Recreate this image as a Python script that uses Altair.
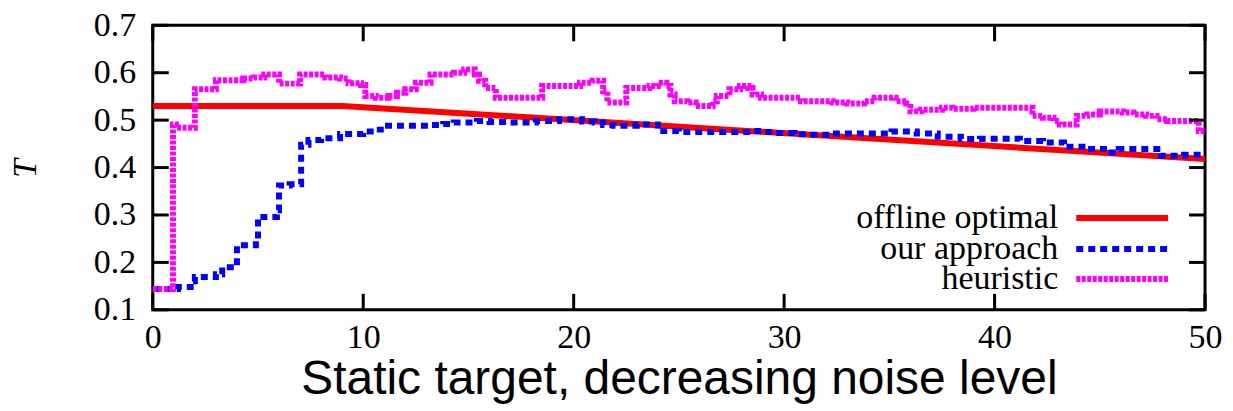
import altair as alt
import pandas as pd

# ---- data ----
x_ticks = [0, 10, 20, 30, 40, 50]
y_ticks = [0.1, 0.2, 0.3, 0.4, 0.5, 0.6, 0.7]

series_names = ["offline optimal", "our approach", "heuristic"]
series_colors = ["#ff0000", "#0000ff", "#ff00ff"]

optimal_x = [0, 9, 50]
optimal_y = [0.53, 0.53, 0.418]

approach_x = [0, 1.2, 1.8, 2.0, 3.0, 3.3, 4.0, 4.9, 5.0, 5.9, 6.0, 6.5, 7.05, 7.4, 8.0,
              8.9, 10.0, 10.5, 11.0, 13.2, 13.8, 14.3, 15.4, 16.0, 17.0, 18.2, 19.3,
              20.4, 21.0, 21.4, 21.9, 23.0, 24.0, 25.0, 28.5, 29.0, 29.6, 30.5, 31.1,
              32.2, 35.1, 36.3, 37.3, 38.4, 39.3, 41.2, 42.3, 43.3, 44.4, 45.4, 45.9,
              47.9, 49.0, 50.0]
approach_y = [0.144, 0.148, 0.16, 0.169, 0.175, 0.19, 0.236, 0.247, 0.296, 0.31, 0.362,
              0.365, 0.448, 0.458, 0.462, 0.471, 0.476, 0.48, 0.488, 0.49, 0.492, 0.495,
              0.498, 0.496, 0.495, 0.498, 0.502, 0.497, 0.495, 0.49, 0.488, 0.491, 0.477,
              0.475, 0.477, 0.475, 0.473, 0.47, 0.469, 0.472, 0.476, 0.472, 0.465, 0.46,
              0.461, 0.456, 0.453, 0.444, 0.439, 0.432, 0.439, 0.425, 0.427, 0.427]

heuristic_x = [0, 0.96, 1.1, 2.0, 3.0, 4.3, 4.8, 5.3, 6.0, 7.0, 8.2, 8.9, 9.3, 9.9, 10.1,
               10.6, 11.2, 11.6, 12.0, 12.5, 13.2, 14.3, 14.8, 15.3, 15.5, 15.8, 16.3,
               18.5, 20.3, 20.9, 21.4, 21.6, 22.5, 23.6, 24.0, 24.4, 24.6, 24.8, 25.4,
               25.8, 26.6, 26.8, 27.4, 27.9, 28.3, 28.5, 28.9, 30.8, 32.3, 33.0, 33.8,
               34.3, 35.3, 35.8, 36.0, 36.5, 37.5, 38.0, 39.0, 41.8, 42.3, 42.8, 43.1,
               43.9, 44.4, 45.0, 46.1, 46.6, 47.2, 47.7, 48.2, 49.7, 50.0]
heuristic_y = [0.144, 0.491, 0.484, 0.565, 0.584, 0.588, 0.59, 0.596, 0.577, 0.596, 0.59,
               0.588, 0.578, 0.574, 0.551, 0.547, 0.551, 0.558, 0.565, 0.579, 0.596, 0.6,
               0.607, 0.596, 0.583, 0.568, 0.547, 0.572, 0.579, 0.583, 0.561, 0.537,
               0.568, 0.572, 0.579, 0.572, 0.554, 0.54, 0.537, 0.53, 0.54, 0.551, 0.565,
               0.572, 0.568, 0.554, 0.547, 0.54, 0.537, 0.535, 0.54, 0.547, 0.54, 0.535,
               0.519, 0.522, 0.526, 0.524, 0.526, 0.509, 0.505, 0.498, 0.491, 0.509,
               0.512, 0.518, 0.516, 0.512, 0.509, 0.502, 0.498, 0.477, 0.477]

# ---- layout / style ----
W, H = 1054, 285
TICK = 16
SERIF = "Liberation Serif"
SANS = "Liberation Sans"

xscale = alt.Scale(domain=[0, 50], nice=False, zero=False)
yscale = alt.Scale(domain=[0.1, 0.7], nice=False, zero=False)

x_axis = alt.Axis(values=x_ticks, ticks=False, domain=False, grid=False,
                  labelFont=SERIF, labelFontSize=34, labelPadding=11, labelFlush=False,
                  labelColor="black", labelOverlap=False,
                  title="Static target, decreasing noise level", titleFont=SANS,
                  titleFontSize=48, titleFontWeight="normal", titleColor="black",
                  titleY=84, titleBaseline="alphabetic")
y_axis = alt.Axis(values=y_ticks, format=".1f", ticks=False, domain=False, grid=False,
                  labelFont=SERIF, labelFontSize=34, labelPadding=17, labelColor="black",
                  labelOverlap=False,
                  title="T", titleFont=SERIF, titleFontStyle="italic", titleFontSize=34,
                  titleFontWeight="normal", titleColor="black", titleX=-117, titleY=143,
                  titleBaseline="alphabetic")


def X(field):
    return alt.X(field, scale=xscale, axis=x_axis)


def Y(field):
    return alt.Y(field, scale=yscale, axis=y_axis)


df_opt = pd.DataFrame({"x": optimal_x, "y": optimal_y})
df_app = pd.DataFrame({"x": approach_x, "y": approach_y})
df_heu = pd.DataFrame({"x": heuristic_x, "y": heuristic_y})

red = alt.Chart(df_opt).mark_line(color=series_colors[0], strokeWidth=6, clip=True).encode(
    x=X("x:Q"), y=Y("y:Q"))
blue = alt.Chart(df_app).mark_line(color=series_colors[1], strokeWidth=6, strokeDash=[7, 5],
                                   interpolate="step-after", clip=True).encode(
    x=X("x:Q"), y=Y("y:Q"))
mag = alt.Chart(df_heu).mark_line(color=series_colors[2], strokeWidth=6, strokeDash=[4, 1.5],
                                  interpolate="step-after", clip=True).encode(
    x=X("x:Q"), y=Y("y:Q"))

# inward tick marks on all four sides (gnuplot style)
df_yt = pd.DataFrame({"x": [0] * len(y_ticks), "y": y_ticks})
df_xt = pd.DataFrame({"x": x_ticks, "y": [0.1] * len(x_ticks)})
tick_layers = [
    alt.Chart(df_yt).mark_rule(color="black", strokeWidth=3).encode(
        y=Y("y:Q"), x=alt.value(0), x2=alt.value(TICK)),
    alt.Chart(df_yt).mark_rule(color="black", strokeWidth=3).encode(
        y=Y("y:Q"), x=alt.value(W - TICK), x2=alt.value(W)),
    alt.Chart(df_xt).mark_rule(color="black", strokeWidth=3).encode(
        x=X("x:Q"), y=alt.value(H), y2=alt.value(H - TICK)),
    alt.Chart(df_xt).mark_rule(color="black", strokeWidth=3).encode(
        x=X("x:Q"), y=alt.value(0), y2=alt.value(TICK)),
]

# legend (text on the left, line sample on the right)
leg_rows = [193, 224, 254]
leg_dash = [None, [7, 5], [4, 1.5]]
legend_layers = []
for name, col, dash, ry in zip(series_names, series_colors, leg_dash, leg_rows):
    legend_layers.append(
        alt.Chart(pd.DataFrame({"n": [name]})).mark_text(
            align="right", baseline="middle", font=SERIF, fontSize=34, color="black"
        ).encode(text="n:N", x=alt.value(907), y=alt.value(ry))
    )
    rule_kw = dict(color=col, strokeWidth=6)
    if dash is not None:
        rule_kw["strokeDash"] = dash
    legend_layers.append(
        alt.Chart(pd.DataFrame({"n": [name]})).mark_rule(**rule_kw).encode(
            x=alt.value(925), x2=alt.value(1017), y=alt.value(ry))
    )

chart = alt.layer(red, blue, mag, *tick_layers, *legend_layers).properties(
    width=W, height=H,
    autosize=alt.AutoSizeParams(type="none"),
    padding={"left": 145, "top": 17, "right": 20, "bottom": 95},
    background="white",
).configure_view(stroke="black", strokeWidth=3)

chart.save("out.html", embed_options={"renderer": "svg", "actions": False})
